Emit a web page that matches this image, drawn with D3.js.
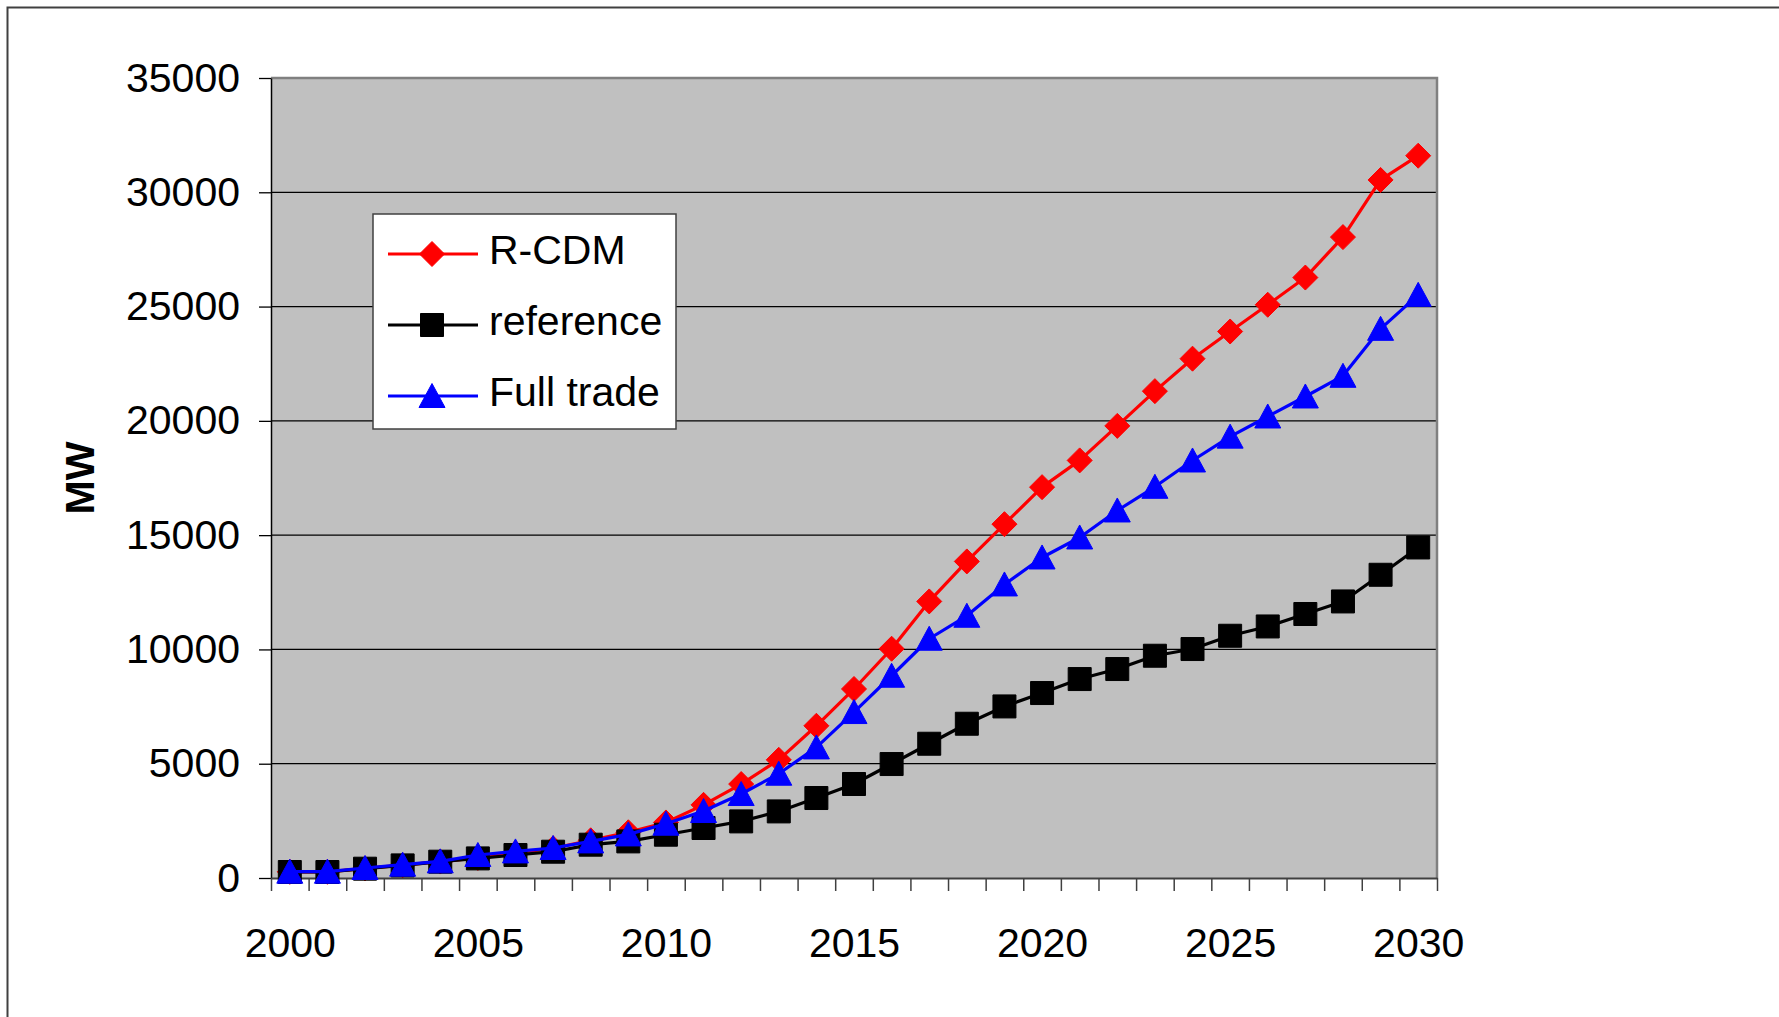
<!DOCTYPE html>
<html>
<head>
<meta charset="utf-8">
<script src="https://cdn.jsdelivr.net/npm/d3@7"></script>
<style>
  html, body { margin: 0; padding: 0; background: #ffffff; }
  svg { display: block; font-family: "Liberation Sans", Arial, sans-serif; }
</style>
</head>
<body>
<svg id="chart" width="1779" height="1017"></svg>
<script>
// ---- Data ----
const years = [2000, 2001, 2002, 2003, 2004, 2005, 2006, 2007, 2008, 2009, 2010,
               2011, 2012, 2013, 2014, 2015, 2016, 2017, 2018, 2019, 2020,
               2021, 2022, 2023, 2024, 2025, 2026, 2027, 2028, 2029, 2030];
const rcdm = [270, 270, 420, 560, 720, 880, 1100, 1300, 1650, 2000, 2430,
              3200, 4110, 5170, 6660, 8270, 10030, 12100, 13850, 15480, 17100,
              18270, 19780, 21300, 22720, 23910, 25080, 26270, 28040, 30540, 31600];
const reference = [262, 262, 407, 551, 713, 857, 1006, 1150, 1457, 1601, 1894,
                   2187, 2476, 2913, 3499, 4112, 4986, 5874, 6749, 7506, 8092,
                   8704, 9142, 9724, 10017, 10598, 11005, 11550, 12099, 13266, 14461];
const fullTrade = [276, 276, 437, 582, 728, 1006, 1164, 1312, 1601, 1907, 2375,
                   2930, 3674, 4562, 5713, 7260, 8849, 10467, 11473, 12843, 14023,
                   14898, 16079, 17115, 18266, 19310, 20191, 21066, 21971, 24026, 25513];
const xTickLabels = [2000, 2005, 2010, 2015, 2020, 2025, 2030];
const yTicks = [0, 5000, 10000, 15000, 20000, 25000, 30000, 35000];
const seriesNames = ["R-CDM", "reference", "Full trade"];
const seriesColors = ["#ff0000", "#000000", "#0000ff"];
const seriesMarkers = ["diamond", "square", "triangle"];
const yLabel = "MW";

// ---- Layout ----
const svg = d3.select("#chart");
const L = 271, R = 1437, T = 78, B = 878;

const x = d3.scaleLinear().domain([years[0] - 0.5, years[years.length - 1] + 0.5]).range([L, R]);
const y = d3.scaleLinear().domain([0, 35000]).range([B, T]);

// outer frame
svg.append("path")
  .attr("d", `M7.5,1017 L7.5,7.5 L1779,7.5`)
  .attr("fill", "none").attr("stroke", "#404040").attr("stroke-width", 2);

// plot background
svg.append("rect").attr("x", L).attr("y", T).attr("width", R - L).attr("height", B - T)
  .attr("fill", "#c0c0c0");

// gridlines
svg.append("g").selectAll("line").data(yTicks.filter(v => v > 0 && v < 35000)).join("line")
  .attr("x1", L).attr("x2", R)
  .attr("y1", d => y(d)).attr("y2", d => y(d))
  .attr("stroke", "#000").attr("stroke-width", 1.2);

// plot border top/right (gray)
svg.append("path")
  .attr("d", `M${L},${T} L${R},${T} L${R},${B}`)
  .attr("fill", "none").attr("stroke", "#808080").attr("stroke-width", 2.5);

// y axis
const yAxis = d3.axisLeft(y).tickValues(yTicks).tickSize(12).tickSizeOuter(0).tickPadding(19)
  .tickFormat(d3.format("d"));
const gy = svg.append("g").attr("transform", `translate(${L},0)`).call(yAxis);
gy.select(".domain").attr("stroke", "#000").attr("stroke-width", 1.5);
gy.selectAll(".tick line").attr("stroke", "#000").attr("stroke-width", 1.3);
gy.selectAll(".tick text").attr("font-size", 41).attr("fill", "#000")
  .attr("font-family", "'Liberation Sans', Arial, sans-serif");

// x axis boundary ticks
const boundaries = years.map(v => v - 0.5).concat([years[years.length - 1] + 0.5]);
const xTicksAxis = d3.axisBottom(x).tickValues(boundaries).tickSize(13).tickSizeOuter(0).tickFormat("");
const gxt = svg.append("g").attr("transform", `translate(0,${B})`).call(xTicksAxis);
gxt.select(".domain").attr("stroke", "#404040").attr("stroke-width", 2);
gxt.selectAll(".tick line").attr("stroke", "#404040").attr("stroke-width", 1.5);

// x axis labels
const xLabelAxis = d3.axisBottom(x).tickValues(xTickLabels).tickSize(0).tickPadding(50)
  .tickFormat(d3.format("d"));
const gxl = svg.append("g").attr("transform", `translate(0,${B})`).call(xLabelAxis);
gxl.select(".domain").remove();
gxl.selectAll(".tick text").attr("font-size", 41).attr("fill", "#000")
  .attr("font-family", "'Liberation Sans', Arial, sans-serif");

// y label
svg.append("text")
  .attr("transform", `translate(${94},${(T + B) / 2}) rotate(-90)`)
  .attr("text-anchor", "middle")
  .attr("font-size", 41).attr("font-weight", "bold").attr("fill", "#000")
  .text(yLabel);

// markers
function markerPath(type) {
  if (type === "diamond") return "M0,-12.5 L12.5,0 L0,12.5 L-12.5,0 Z";
  if (type === "square") return "M-11.5,-11.5 L11.5,-11.5 L11.5,11.5 L-11.5,11.5 Z";
  return "M0,-12.5 L13,11.5 L-13,11.5 Z";
}

const allSeries = [rcdm, reference, fullTrade];
const line = d3.line().x((d, i) => x(years[i])).y(d => y(d));

allSeries.forEach((vals, si) => {
  const g = svg.append("g");
  g.append("path").datum(vals).attr("d", line)
    .attr("fill", "none").attr("stroke", seriesColors[si]).attr("stroke-width", 3.2)
    .attr("stroke-linejoin", "round");
  g.selectAll("path.m").data(vals).join("path").attr("class", "m")
    .attr("transform", (d, i) => `translate(${x(years[i])},${y(d)})`)
    .attr("d", markerPath(seriesMarkers[si]))
    .attr("fill", seriesColors[si])
    .attr("stroke", seriesColors[si]).attr("stroke-width", 1).attr("stroke-linejoin", "round");
});

// legend
const lg = svg.append("g");
lg.append("rect").attr("x", 373).attr("y", 214).attr("width", 303).attr("height", 215)
  .attr("fill", "#fff").attr("stroke", "#404040").attr("stroke-width", 1.5);
const rowY = [254, 325, 396];
seriesNames.forEach((name, i) => {
  lg.append("line").attr("x1", 388).attr("x2", 478).attr("y1", rowY[i]).attr("y2", rowY[i])
    .attr("stroke", seriesColors[i]).attr("stroke-width", 3.2);
  lg.append("path").attr("transform", `translate(432,${rowY[i]})`)
    .attr("d", markerPath(seriesMarkers[i])).attr("fill", seriesColors[i])
    .attr("stroke", seriesColors[i]).attr("stroke-width", 1).attr("stroke-linejoin", "round");
  lg.append("text").attr("x", 489).attr("y", rowY[i] + 9.5)
    .attr("font-size", 41).attr("fill", "#000").text(name);
});
</script>
</body>
</html>
